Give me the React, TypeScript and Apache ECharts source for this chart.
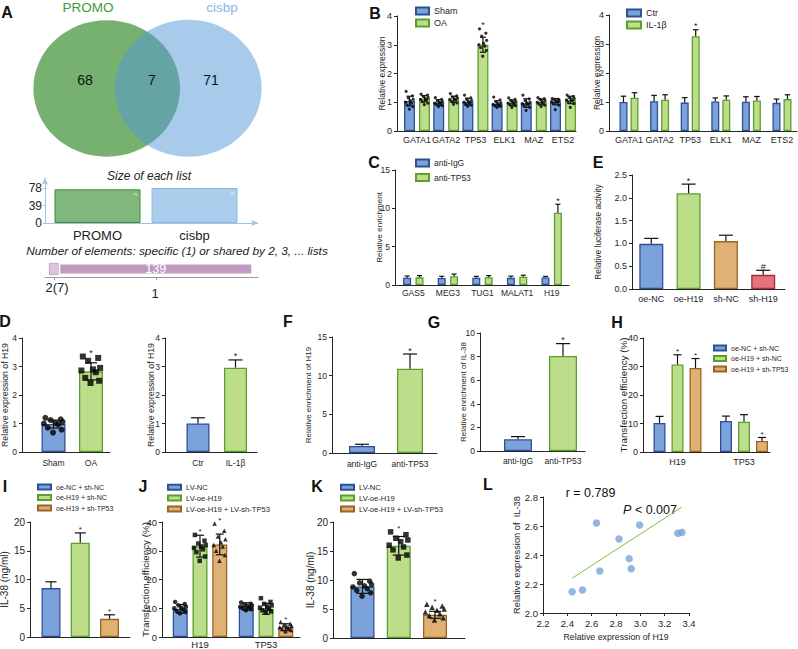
import React, { useEffect, useRef } from 'react';
import * as echarts from 'echarts';

const FONT = '"Liberation Sans", Arial, Helvetica, sans-serif';
const INK = '#262626';
const BLUE = { color: '#7ba2db', borderColor: '#2d5094' };
const GREEN = { color: '#bcdd8a', borderColor: '#5c9f2f' };
const ORANGE = { color: '#dfb174', borderColor: '#9b6421' };
const RED = { color: '#e5727d', borderColor: '#ad2838' };
const JIT = [-0.34, 0.3, -0.12, 0.38, 0.08, -0.4, 0.2, -0.24, 0.34, -0.02];

// ---------- A ----------
const vennSets = ['PROMO', 'cisbp'];
const vennCounts = [68, 7, 71];
const listSizes = [75, 78];
const listTicks = [0, 39, 78];
const sharedCounts = [7, 139];
const sharedLabels = ['2(7)', '1'];

// ---------- B ----------
const tfGenes = ['GATA1', 'GATA2', 'TP53', 'ELK1', 'MAZ', 'ETS2'];
const bShamMean = [1.04, 0.99, 1.02, 0.95, 0.97, 1.02];
const bShamSd = [0.17, 0.1, 0.12, 0.1, 0.15, 0.11];
const bOaMean = [1.12, 1.1, 3.0, 0.98, 1.01, 1.08];
const bOaSd = [0.11, 0.11, 0.26, 0.1, 0.1, 0.13];
const bShamDots = [
  [1.38, 1.22, 1.15, 1.1, 1.06, 1.0, 0.96, 0.9, 0.85, 0.76],
  [1.16, 1.1, 1.05, 1.02, 1.0, 0.97, 0.95, 0.92, 0.88, 0.85],
  [1.25, 1.15, 1.1, 1.06, 1.02, 1.0, 0.97, 0.93, 0.9, 0.86],
  [1.18, 1.08, 1.02, 0.98, 0.95, 0.93, 0.9, 0.88, 0.86, 0.82],
  [1.25, 1.12, 1.06, 1.0, 0.98, 0.95, 0.92, 0.88, 0.82, 0.72],
  [1.13, 1.1, 1.08, 1.06, 1.04, 1.02, 1.0, 0.96, 0.9, 0.74],
];
const bOaDots = [
  [1.28, 1.25, 1.2, 1.16, 1.13, 1.1, 1.07, 1.02, 0.97, 0.92],
  [1.3, 1.22, 1.18, 1.14, 1.12, 1.1, 1.07, 1.03, 0.98, 0.93],
  [3.55, 3.4, 3.3, 3.15, 3.05, 3.0, 2.95, 2.9, 2.8, 2.6],
  [1.15, 1.1, 1.06, 1.02, 1.0, 0.97, 0.95, 0.92, 0.88, 0.82],
  [1.16, 1.13, 1.1, 1.06, 1.03, 1.0, 0.97, 0.94, 0.9, 0.85],
  [1.25, 1.2, 1.16, 1.13, 1.1, 1.08, 1.05, 1.0, 0.95, 0.82],
];
const bMarks = ['', '', '*', '', '', ''];
const bCtrMean = [1.0, 1.03, 0.98, 1.02, 1.01, 0.97];
const bCtrSd = [0.2, 0.2, 0.17, 0.12, 0.17, 0.13];
const bIlMean = [1.15, 1.08, 3.27, 1.08, 1.05, 1.1];
const bIlSd = [0.17, 0.17, 0.22, 0.13, 0.14, 0.15];
const bTicks = [0, 1, 2, 3, 4];

// ---------- C ----------
const cGenes = ['GAS5', 'MEG3', 'TUG1', 'MALAT1', 'H19'];
const cIgG = [0.95, 0.92, 0.95, 0.93, 0.97];
const cIgGSd = [0.22, 0.22, 0.18, 0.22, 0.15];
const cTp53 = [1.0, 1.15, 1.02, 1.08, 9.43];
const cTp53Sd = [0.22, 0.27, 0.2, 0.2, 1.1];
const cMarks = ['', '', '', '', '*'];
const cTicks = [0, 5, 10, 15];

// ---------- E ----------
const eGroups = ['oe-NC', 'oe-H19', 'sh-NC', 'sh-H19'];
const eMean = [0.99, 2.1, 1.05, 0.31];
const eSd = [0.12, 0.2, 0.13, 0.1];
const eMarks = ['', '*', '', '#'];
const eTicks = [0, 0.5, 1.0, 1.5, 2.0, 2.5];

// ---------- D ----------
const dGroupsA = ['Sham', 'OA'];
const dMeanA = [0.98, 2.83];
const dSdA = [0.14, 0.3];
const dDotsA = [
  [1.2, 1.15, 1.12, 1.06, 1.02, 1.0, 0.97, 0.85, 0.78, 0.68],
  [3.35, 3.3, 3.2, 2.95, 2.9, 2.86, 2.8, 2.6, 2.5, 2.42],
];
const dMarksA = ['', '*'];
const dGroupsB = ['Ctr', 'IL-1β'];
const dMeanB = [1.0, 2.96];
const dSdB = [0.2, 0.27];
const dMarksB = ['', '*'];
const dTicks = [0, 1, 2, 3, 4];

// ---------- F / G ----------
const ripGroups = ['anti-IgG', 'anti-TP53'];
const fMean = [0.91, 10.9];
const fSd = [0.22, 1.9];
const fTicks = [0, 5, 10, 15];
const gMean = [0.99, 8.05];
const gSd = [0.23, 1.05];
const gTicks = [0, 2, 4, 6, 8, 10];
const ripMarks = ['', '*'];

// ---------- H ----------
const hGenes = ['H19', 'TP53'];
const hNames = ['oe-NC + sh-NC', 'oe-H19 + sh-NC', 'oe-H19 + sh-TP53'];
const hMean = [[10.2, 10.9], [30.7, 10.6], [29.5, 3.9]];
const hSd = [[2.3, 1.7], [3.4, 2.5], [3.3, 1.2]];
const hMarks = [['', ''], ['*', ''], ['*', '*']];
const pctTicks = [0, 10, 20, 30, 40];

// ---------- I ----------
const iMean = [8.5, 16.4, 3.16];
const iSd = [1.1, 1.7, 0.7];
const iMarks = ['', '*', '*'];
const il38Ticks = [0, 5, 10, 15, 20];

// ---------- J ----------
const jGenes = ['H19', 'TP53'];
const jNames = ['LV-NC', 'LV-oe-H19', 'LV-oe-H19 + LV-sh-TP53'];
const jMean = [[9.8, 10.6], [31.6, 9.8], [32.2, 3.4]];
const jSd = [[1.5, 1.3], [3.8, 1.9], [3.6, 1.2]];
const jDots = [
  [
    [12.2, 11.5, 11, 10.5, 10.2, 10, 9.5, 9, 8.7, 8.2],
    [12, 11.6, 11.2, 11, 10.8, 10.5, 10.2, 10, 9.6, 9.3],
  ],
  [
    [35.5, 33.5, 32.5, 32, 31.5, 31, 30.5, 29.5, 28, 26.5],
    [13.5, 12.2, 11.5, 11, 10.6, 10.2, 9.8, 9.3, 8.9, 8.5],
  ],
  [
    [39.5, 37, 35, 34, 33, 32, 31.5, 30, 28.5, 26.5],
    [5.2, 4.6, 4.2, 3.9, 3.6, 3.4, 3.1, 2.8, 2.4, 2.0],
  ],
];
const jMarks = [['', ''], ['*', ''], ['*', '*']];

// ---------- K ----------
const kMean = [8.9, 15.9, 4.0];
const kSd = [1.2, 1.6, 0.6];
const kDots = [
  [11.1, 9.8, 9.5, 9.2, 9.0, 8.8, 8.5, 8.2, 7.8, 7.2],
  [18.3, 17.8, 17.2, 16.9, 16.6, 16.0, 15.7, 15.2, 14.3, 13.8],
  [5.8, 5.5, 5.3, 5.0, 4.8, 4.5, 4.2, 3.9, 3.5, 3.1],
];
const kMarks = ['', '*', '*'];

// ---------- L ----------
const lH19 = [2.44, 2.525, 2.64, 2.667, 2.825, 2.908, 2.925, 2.994, 3.308, 3.342];
const lIl38 = [2.147, 2.159, 2.62, 2.29, 2.51, 2.375, 2.306, 2.607, 2.55, 2.556];
const lFitX = [2.44, 3.34];
const lFitY = [2.24, 2.73];
const lStats = ['r = 0.789', ' < 0.007'];

function buildOption() {
  const grid: any[] = [];
  const xAxis: any[] = [];
  const yAxis: any[] = [];
  const series: any[] = [];
  const legend: any[] = [];
  const graphic: any[] = [];
  const mkLine = () => ({ show: true, onZero: false, lineStyle: { color: INK, width: 1 } });

  function catPanel(p: any) {
    const gi = grid.length;
    grid.push({ left: p.x0, top: p.yTop, width: p.x1 - p.x0, height: p.y0 - p.yTop, outerBoundsMode: 'none' });
    xAxis.push({
      gridIndex: gi, type: 'value', min: (p.x0 - p.c0) / p.w, max: (p.x1 - p.c0) / p.w,
      axisLine: mkLine(), axisTick: { show: false }, splitLine: { show: false },
      axisLabel: {
        show: p.cats.length > 0, customValues: p.cats.map((_: any, i: number) => i),
        formatter: (v: number) => p.cats[Math.round(v)] ?? '',
        fontSize: p.catSize, color: INK, fontFamily: FONT, margin: p.catMargin ?? 4,
      },
    });
    const yFmt = p.yFmt || ((v: number) => String(Math.round(v * 100) / 100));
    const tv = p.ticks;
    yAxis.push({
      gridIndex: gi, type: 'value', min: tv[0], max: tv[tv.length - 1],
      axisLine: mkLine(), axisTick: { show: true, length: 3, customValues: tv, lineStyle: { color: INK } }, splitLine: { show: false },
      axisLabel: { show: true, customValues: tv, hideOverlap: false, fontSize: p.tickSize, color: INK, fontFamily: FONT, margin: 5, formatter: yFmt },
      name: p.yName, nameLocation: 'middle', nameGap: p.yNameGap, nameMoveOverlap: false,
      nameTextStyle: { fontSize: p.yNameSize, color: INK, fontFamily: FONT },
    });
    return gi;
  }
  const X = (p: any, i: number, off: number) => i + off / p.w;

  function addBars(gi: number, name: string | undefined, xs: number[], vals: number[], style: any, barW: number, styles?: any[]) {
    series.push({
      type: 'bar', name, xAxisIndex: gi, yAxisIndex: gi, barWidth: barW, barGap: '-100%', z: 2,
      itemStyle: { ...style, borderWidth: 1.3 },
      data: vals.map((v, i) => (styles ? { value: [xs[i], v], itemStyle: { ...styles[i], borderWidth: 1.3 } } : [xs[i], v])),
    });
  }
  function addErr(gi: number, xs: number[], vals: number[], sds: number[], tops: number[], marks: string[], cap: number, both: boolean, markSize = 9) {
    series.push({
      type: 'custom', xAxisIndex: gi, yAxisIndex: gi, z: 6, silent: true,
      data: vals.map((v, i) => [xs[i], v, sds[i], tops[i]]),
      renderItem: (params: any, api: any) => {
        const x = api.value(0), y = api.value(1), e = api.value(2), top = api.value(3);
        const pt = api.coord([x, y + e]);
        const pb = api.coord([x, both ? y - e : y]);
        const st = { stroke: '#111', lineWidth: 1.2 };
        const ch: any[] = [
          { type: 'line', shape: { x1: pt[0], y1: pb[1], x2: pt[0], y2: pt[1] }, style: st },
          { type: 'line', shape: { x1: pt[0] - cap, y1: pt[1], x2: pt[0] + cap, y2: pt[1] }, style: st },
        ];
        if (both) ch.push({ type: 'line', shape: { x1: pb[0] - cap, y1: pb[1], x2: pb[0] + cap, y2: pb[1] }, style: st });
        const m = marks[params.dataIndex];
        if (m) {
          const pk = api.coord([x, top]);
          ch.push({ type: 'text', style: { text: m, x: pk[0], y: pk[1] + 1, align: 'center', verticalAlign: 'bottom', fontSize: markSize, fill: '#222', fontFamily: FONT } });
        }
        return { type: 'group', children: ch };
      },
    });
  }
  function addDots(gi: number, p: any, idx: number[], off: number, dots: number[][], barW: number, symbol: string, size: number, spread = 1) {
    const data: number[][] = [];
    idx.forEach((ci, n) => dots[n].forEach((v, k) => data.push([X(p, ci, off + JIT[k % JIT.length] * barW * spread), v])));
    series.push({ type: 'scatter', xAxisIndex: gi, yAxisIndex: gi, symbol, symbolSize: size, data, itemStyle: { color: '#000' }, z: 4, silent: true });
  }
  const maxTop = (v: number[], s: number[], dots?: number[][]) => v.map((m, i) => Math.max(m + s[i], dots ? Math.max(...dots[i]) : -Infinity));
  const addLegend = (left: number, top: number, gap: number, names: string[], size: number, iw: number, ih: number) =>
    legend.push({ left, top, orient: 'vertical', itemWidth: iw, itemHeight: ih, itemGap: gap, icon: 'rect', data: names, padding: 0, selectedMode: false, textStyle: { fontSize: size, color: INK, fontFamily: FONT } });

  // ===== A: Venn =====
  graphic.push(
    { type: 'ellipse', shape: { cx: 106.7, cy: 88.5, rx: 73.3, ry: 68.2 }, style: { fill: 'rgb(119,177,112)' } },
    { type: 'ellipse', shape: { cx: 188.3, cy: 88.2, rx: 73.3, ry: 68.5 }, style: { fill: 'rgba(83,151,215,0.5)' } },
  );
  const vennX = [85, 152, 211];
  vennCounts.forEach((c, i) => graphic.push({ type: 'text', x: vennX[i], y: 80, style: { text: String(c), align: 'center', verticalAlign: 'middle', fontSize: 14, fill: '#111', fontFamily: FONT } }));
  graphic.push(
    { type: 'text', x: 88, y: 7.5, style: { text: vennSets[0], align: 'center', verticalAlign: 'middle', fontSize: 13.5, fill: '#3f9a3a', fontFamily: FONT } },
    { type: 'text', x: 222, y: 7.5, style: { text: vennSets[1], align: 'center', verticalAlign: 'middle', fontSize: 13.5, fill: '#86b8e6', fontFamily: FONT } },
    { type: 'text', x: 149, y: 176, style: { text: 'Size of each list', align: 'center', verticalAlign: 'middle', fontSize: 12, fontStyle: 'italic', fill: '#222', fontFamily: FONT } },
    { type: 'text', x: 177, y: 250.5, style: { text: 'Number of elements: specific (1) or shared by 2, 3, ... lists', align: 'center', verticalAlign: 'middle', fontSize: 11.8, fontStyle: 'italic', fill: '#222', fontFamily: FONT } },
    { type: 'text', x: 57, y: 287.5, style: { text: sharedLabels[0], align: 'center', verticalAlign: 'middle', fontSize: 13, fill: '#222', fontFamily: FONT } },
    { type: 'text', x: 155, y: 293, style: { text: sharedLabels[1], align: 'center', verticalAlign: 'middle', fontSize: 13, fill: '#222', fontFamily: FONT } },
  );

  // A1: list sizes
  const a1 = grid.length;
  grid.push({ left: 45, top: 178, width: 213, height: 45, outerBoundsMode: 'none' });
  const lightAx = () => ({ show: true, onZero: false, symbol: ['none', 'arrow'], symbolSize: [5, 7], lineStyle: { color: '#9fc4e7', width: 1 } });
  xAxis.push({
    gridIndex: a1, type: 'value', min: (45 - 97.5) / 97, max: (258 - 97.5) / 97, axisLine: lightAx(), axisTick: { show: false }, splitLine: { show: false },
    axisLabel: { customValues: [0, 1], formatter: (v: number) => vennSets[Math.round(v)] ?? '', fontSize: 13, color: '#222', fontFamily: FONT, margin: 6 },
  });
  yAxis.push({
    gridIndex: a1, type: 'value', min: 0, max: 100.3, axisLine: lightAx(), splitLine: { show: false },
    axisTick: { show: true, customValues: listTicks, length: 2, lineStyle: { color: '#9fc4e7' } },
    axisLabel: { customValues: listTicks, fontSize: 12, color: '#222', fontFamily: FONT, margin: 3 },
  });
  series.push({
    type: 'bar', xAxisIndex: a1, yAxisIndex: a1, barWidth: 86,
    data: listSizes.map((v, i) => ({ value: [i, v], itemStyle: i === 0 ? { color: '#80b77b', borderColor: '#3d8c3d', borderWidth: 1 } : { color: '#aacdeb', borderColor: '#8dbbe3', borderWidth: 1 } })),
    label: { show: true, position: 'insideTopRight', formatter: (q: any) => String(q.value[1]), fontSize: 4, color: '#eef', distance: 3 },
  });

  // A2: shared counts
  const a2 = grid.length;
  const k = 194 / sharedCounts[1];
  const a2min = -(49 - 45) / k;
  const a2ticks = [sharedCounts[0] / 2, sharedCounts[0] + sharedCounts[1] / 2];
  grid.push({ left: 45, top: 261, width: 213, height: 16, outerBoundsMode: 'none' });
  xAxis.push({
    gridIndex: a2, type: 'value', min: a2min, max: a2min + 213 / k, splitLine: { show: false },
    axisLine: { show: true, onZero: false, lineStyle: { color: '#9a9a9a' } },
    axisTick: { show: true, customValues: a2ticks, length: 3, lineStyle: { color: '#9a9a9a' } },
    axisLabel: { show: false },
  });
  yAxis.push({ gridIndex: a2, type: 'category', data: ['n'], show: false });
  series.push(
    { type: 'bar', xAxisIndex: a2, yAxisIndex: a2, stack: 'sh', barWidth: 12, data: [sharedCounts[0]], itemStyle: { color: '#dcc4dc', borderColor: '#b4a0b4', borderWidth: 0.8 } },
    { type: 'bar', xAxisIndex: a2, yAxisIndex: a2, stack: 'sh', barWidth: 12, data: [sharedCounts[1]], itemStyle: { color: '#c19ac1', borderColor: '#fff', borderWidth: 1.5 },
      label: { show: true, position: 'inside', formatter: String(sharedCounts[1]), color: '#fff', fontSize: 12.5, fontFamily: FONT } },
  );

  // ===== B left =====
  {
    const p = { x0: 397, x1: 576, c0: 417, w: 29.2, yTop: 16, y0: 131, ticks: bTicks, cats: tfGenes, catSize: 9, tickSize: 9, yName: 'Relative expression', yNameGap: 11, yNameSize: 8.5, catMargin: 4 };
    const gi = catPanel(p);
    const xs1 = tfGenes.map((_, i) => X(p, i, -7.5));
    const xs2 = tfGenes.map((_, i) => X(p, i, 7.5));
    addBars(gi, 'Sham', xs1, bShamMean, BLUE, 11);
    addBars(gi, 'OA', xs2, bOaMean, GREEN, 11);
    addDots(gi, p, tfGenes.map((_, i) => i), -7.5, bShamDots, 11, 'circle', 3.2, 0.9);
    addDots(gi, p, tfGenes.map((_, i) => i), 7.5, bOaDots, 11, 'circle', 3.2, 0.9);
    addErr(gi, xs1, bShamMean, bShamSd, maxTop(bShamMean, bShamSd, bShamDots), tfGenes.map(() => ''), 3, true);
    addErr(gi, xs2, bOaMean, bOaSd, maxTop(bOaMean, bOaSd, bOaDots), bMarks, 3, true);
    addLegend(415, 6.5, 3, ['Sham', 'OA'], 9, 13, 7);
  }
  // ===== B right =====
  {
    const p = { x0: 609, x1: 797, c0: 629, w: 30.6, yTop: 15, y0: 131, ticks: bTicks, cats: tfGenes, catSize: 9, tickSize: 9, yName: 'Relative expression', yNameGap: 8, yNameSize: 8.5, catMargin: 4 };
    const gi = catPanel(p);
    const xs1 = tfGenes.map((_, i) => X(p, i, -5.5));
    const xs2 = tfGenes.map((_, i) => X(p, i, 5.5));
    addBars(gi, 'Ctr', xs1, bCtrMean, BLUE, 8);
    addBars(gi, 'IL-1β', xs2, bIlMean, GREEN, 8);
    addErr(gi, xs1, bCtrMean, bCtrSd, maxTop(bCtrMean, bCtrSd), tfGenes.map(() => ''), 2.8, false);
    addErr(gi, xs2, bIlMean, bIlSd, maxTop(bIlMean, bIlSd), bMarks, 2.8, false);
    addLegend(626, 8.5, 3, ['Ctr', 'IL-1β'], 9, 14, 7);
  }
  // ===== C =====
  {
    const p = { x0: 395, x1: 569, c0: 413.3, w: 34.6, yTop: 170, y0: 285, ticks: cTicks, cats: cGenes, catSize: 8.5, tickSize: 8.5, yName: 'Relative enrichment', yNameGap: 12, yNameSize: 8, catMargin: 3 };
    const gi = catPanel(p);
    const xs1 = cGenes.map((_, i) => X(p, i, -6.2));
    const xs2 = cGenes.map((_, i) => X(p, i, 6.2));
    addBars(gi, 'anti-IgG', xs1, cIgG, BLUE, 8);
    addBars(gi, 'anti-TP53', xs2, cTp53, GREEN, 8);
    addErr(gi, xs1, cIgG, cIgGSd, maxTop(cIgG, cIgGSd), cGenes.map(() => ''), 2.5, false);
    addErr(gi, xs2, cTp53, cTp53Sd, maxTop(cTp53, cTp53Sd), cMarks, 2.5, false);
    addLegend(415, 158.5, 5.5, ['anti-IgG', 'anti-TP53'], 8.5, 13, 7);
  }
  // ===== E =====
  {
    const p = { x0: 632, x1: 785, c0: 651.3, w: 37.3, yTop: 175, y0: 289, ticks: eTicks, cats: eGroups, catSize: 9, tickSize: 9, yName: 'Relative luciferase activity', yNameGap: 30, yNameSize: 8.3, catMargin: 5.5, yFmt: (v: number) => v.toFixed(1) };
    const gi = catPanel(p);
    const xs = eGroups.map((_, i) => X(p, i, 0));
    addBars(gi, undefined, xs, eMean, BLUE, 24, [BLUE, GREEN, ORANGE, RED]);
    addErr(gi, xs, eMean, eSd, maxTop(eMean, eSd), eMarks, 7, false, 9);
  }
  // ===== D left =====
  {
    const p = { x0: 22, x1: 110, c0: 53.5, w: 37.5, yTop: 338, y0: 452, ticks: dTicks, cats: dGroupsA, catSize: 8.5, tickSize: 8.5, yName: 'Relative expression of H19', yNameGap: 13, yNameSize: 8.7, catMargin: 6 };
    const gi = catPanel(p);
    const xs = dGroupsA.map((_, i) => X(p, i, 0));
    addBars(gi, undefined, xs, dMeanA, BLUE, 24, [BLUE, GREEN]);
    addDots(gi, p, [0], 0, [dDotsA[0]], 24, 'circle', 6, 1);
    addDots(gi, p, [1], 0, [dDotsA[1]], 24, 'rect', 6, 1);
    addErr(gi, xs, dMeanA, dSdA, maxTop(dMeanA, dSdA, dDotsA), dMarksA, 6, true);
  }
  // ===== D right =====
  {
    const p = { x0: 165, x1: 257, c0: 198, w: 37.5, yTop: 338, y0: 452, ticks: dTicks, cats: dGroupsB, catSize: 8.5, tickSize: 8.5, yName: 'Relative expression of H19', yNameGap: 10, yNameSize: 8.7, catMargin: 6 };
    const gi = catPanel(p);
    const xs = dGroupsB.map((_, i) => X(p, i, 0));
    addBars(gi, undefined, xs, dMeanB, BLUE, 23, [BLUE, GREEN]);
    addErr(gi, xs, dMeanB, dSdB, maxTop(dMeanB, dSdB), dMarksB, 7, false);
  }
  // ===== F =====
  {
    const p = { x0: 332, x1: 437, c0: 362, w: 48, yTop: 337, y0: 453, ticks: fTicks, cats: ripGroups, catSize: 8.5, tickSize: 8.5, yName: 'Relative enrichment of H19', yNameGap: 20, yNameSize: 8, catMargin: 6 };
    const gi = catPanel(p);
    const xs = ripGroups.map((_, i) => X(p, i, 0));
    addBars(gi, undefined, xs, fMean, BLUE, 26, [BLUE, GREEN]);
    addErr(gi, xs, fMean, fSd, maxTop(fMean, fSd), ripMarks, 7, false);
  }
  // ===== G =====
  {
    const p = { x0: 480, x1: 585, c0: 518, w: 45, yTop: 333, y0: 451, ticks: gTicks, cats: ripGroups, catSize: 8.5, tickSize: 8.5, yName: 'Relative enrichment of IL-38', yNameGap: 13, yNameSize: 8, catMargin: 5 };
    const gi = catPanel(p);
    const xs = ripGroups.map((_, i) => X(p, i, 0));
    addBars(gi, undefined, xs, gMean, BLUE, 28, [BLUE, GREEN]);
    addErr(gi, xs, gMean, gSd, maxTop(gMean, gSd), ripMarks, 7, false);
  }
  // ===== H =====
  {
    const p = { x0: 643, x1: 770, c0: 677.5, w: 66.5, yTop: 338, y0: 452, ticks: pctTicks, cats: hGenes, catSize: 9, tickSize: 9, yName: 'Transfection efficiency (%)', yNameGap: 15, yNameSize: 9.8, catMargin: 5 };
    const gi = catPanel(p);
    const offs = [-18, 0, 18];
    const styles = [BLUE, GREEN, ORANGE];
    hNames.forEach((n, s) => {
      const xs = hGenes.map((_, i) => X(p, i, offs[s]));
      addBars(gi, n, xs, hMean[s], styles[s], 12);
      addErr(gi, xs, hMean[s], hSd[s], maxTop(hMean[s], hSd[s]), hMarks[s], 4, false, 8);
    });
    addLegend(713, 344.5, 3.5, hNames, 7, 12, 5);
  }
  // ===== I =====
  {
    const p = { x0: 30, x1: 130, c0: 51, w: 29.25, yTop: 522, y0: 637, ticks: il38Ticks, cats: [], catSize: 9, tickSize: 10, yName: 'IL-38 (ng/ml)', yNameGap: 21, yNameSize: 10 };
    const gi = catPanel(p);
    const styles = [BLUE, GREEN, ORANGE];
    hNames.forEach((n, s) => {
      const xs = [X(p, s, 0)];
      addBars(gi, n, xs, [iMean[s]], styles[s], 19);
      addErr(gi, xs, [iMean[s]], [iSd[s]], maxTop([iMean[s]], [iSd[s]]), [iMarks[s]], 5.5, false, 8);
    });
    addLegend(37, 483.5, 3.5, hNames, 7, 13, 5);
  }
  // ===== J =====
  {
    const p = { x0: 162, x1: 300, c0: 200, w: 66, yTop: 522, y0: 637, ticks: pctTicks, cats: jGenes, catSize: 9.5, tickSize: 9.5, yName: 'Transfection efficiency (%)', yNameGap: 12, yNameSize: 9.8, catMargin: 2 };
    const gi = catPanel(p);
    const offs = [-19.75, 0, 19.75];
    const styles = [BLUE, GREEN, ORANGE];
    const syms = ['circle', 'rect', 'triangle'];
    jNames.forEach((n, s) => {
      const xs = jGenes.map((_, i) => X(p, i, offs[s]));
      addBars(gi, n, xs, jMean[s], styles[s], 15);
      addDots(gi, p, [0, 1], offs[s], jDots[s], 15, syms[s], 4.5, 1);
      addErr(gi, xs, jMean[s], jSd[s], maxTop(jMean[s], jSd[s], jDots[s]), jMarks[s], 4, true, 8);
    });
    addLegend(167, 483.2, 2.9, jNames, 7.6, 13, 5);
  }
  // ===== K =====
  {
    const p = { x0: 333, x1: 465, c0: 362.5, w: 36.25, yTop: 522, y0: 638, ticks: il38Ticks, cats: [], catSize: 9, tickSize: 10, yName: 'IL-38 (ng/ml)', yNameGap: 18, yNameSize: 10 };
    const gi = catPanel(p);
    const styles = [BLUE, GREEN, ORANGE];
    const syms = ['circle', 'rect', 'triangle'];
    jNames.forEach((n, s) => {
      const xs = [X(p, s, 0)];
      addBars(gi, n, xs, [kMean[s]], styles[s], 24);
      addDots(gi, p, [s], 0, [kDots[s]], 24, syms[s], 5.5, 1);
      addErr(gi, xs, [kMean[s]], [kSd[s]], maxTop([kMean[s]], [kSd[s]], [kDots[s]]), [kMarks[s]], 6, true, 8);
    });
    addLegend(340, 483.2, 2.9, jNames, 7.6, 13, 5);
  }
  // ===== L =====
  {
    const gi = grid.length;
    grid.push({ left: 543, top: 497, width: 146, height: 116, outerBoundsMode: 'none' });
    xAxis.push({
      gridIndex: gi, type: 'value', min: 2.2, max: 3.4, interval: 0.2, axisLine: mkLine(), splitLine: { show: false },
      axisTick: { show: true, length: 3, lineStyle: { color: INK } },
      axisLabel: { formatter: (v: number) => v.toFixed(1), fontSize: 9.5, color: INK, fontFamily: FONT, margin: 5 },
      name: 'Relative expression of H19', nameLocation: 'middle', nameGap: 19, nameMoveOverlap: false,
      nameTextStyle: { fontSize: 8.8, color: INK, fontFamily: FONT },
    });
    yAxis.push({
      gridIndex: gi, type: 'value', min: 2.0, max: 2.8, interval: 0.2, axisLine: mkLine(), splitLine: { show: false },
      axisTick: { show: true, length: 3, lineStyle: { color: INK } },
      axisLabel: { formatter: (v: number) => v.toFixed(1), fontSize: 9.5, color: INK, fontFamily: FONT, margin: 5 },
      name: 'Relative expression of  IL-38', nameLocation: 'middle', nameGap: 22, nameMoveOverlap: false,
      nameTextStyle: { fontSize: 9.3, color: INK, fontFamily: FONT },
    });
    series.push({ type: 'line', xAxisIndex: gi, yAxisIndex: gi, data: lFitX.map((x, i) => [x, lFitY[i]]), symbol: 'none', lineStyle: { color: '#7fbf45', width: 1 }, z: 2, silent: true });
    series.push({ type: 'scatter', xAxisIndex: gi, yAxisIndex: gi, data: lH19.map((x, i) => [x, lIl38[i]]), symbolSize: 7.5, itemStyle: { color: '#7ba3dc' }, z: 3 });
    graphic.push(
      { type: 'text', x: 590.5, y: 493, style: { text: lStats[0], align: 'center', verticalAlign: 'middle', fontSize: 12.5, fill: '#111', fontFamily: FONT } },
      { type: 'text', x: 650, y: 510, style: { text: '{i|P}' + lStats[1], align: 'center', verticalAlign: 'middle', fontSize: 12.5, fill: '#111', fontFamily: FONT, rich: { i: { fontStyle: 'italic', fontSize: 12.5, fontFamily: FONT, fill: '#111' } } } },
    );
  }

  // panel letters
  const letters: [string, number, number][] = [
    ['A', 7, 12], ['B', 375, 13], ['C', 374, 162], ['E', 598, 162], ['D', 5, 321], ['F', 288, 321],
    ['G', 434, 322], ['H', 617, 322], ['I', 5, 486], ['J', 143, 486], ['K', 317, 486], ['L', 488, 484],
  ];
  letters.forEach(([t, x, y]) => graphic.push({ type: 'text', x, y, style: { text: t, align: 'center', verticalAlign: 'middle', fontSize: 16, fontWeight: 'bold', fill: '#111', fontFamily: FONT } }));

  return { animation: false, backgroundColor: '#fff', textStyle: { fontFamily: FONT }, grid, xAxis, yAxis, series, legend, graphic };
}

export default function App() {
  const ref = useRef<HTMLDivElement>(null);
  useEffect(() => {
    if (!ref.current) return;
    const chart = echarts.init(ref.current, undefined, { renderer: 'svg' });
    chart.setOption(buildOption() as any);
    return () => chart.dispose();
  }, []);
  return <div ref={ref} style={{ position: 'fixed', left: 0, top: 0, width: 798, height: 649, background: '#fff' }} />;
}
